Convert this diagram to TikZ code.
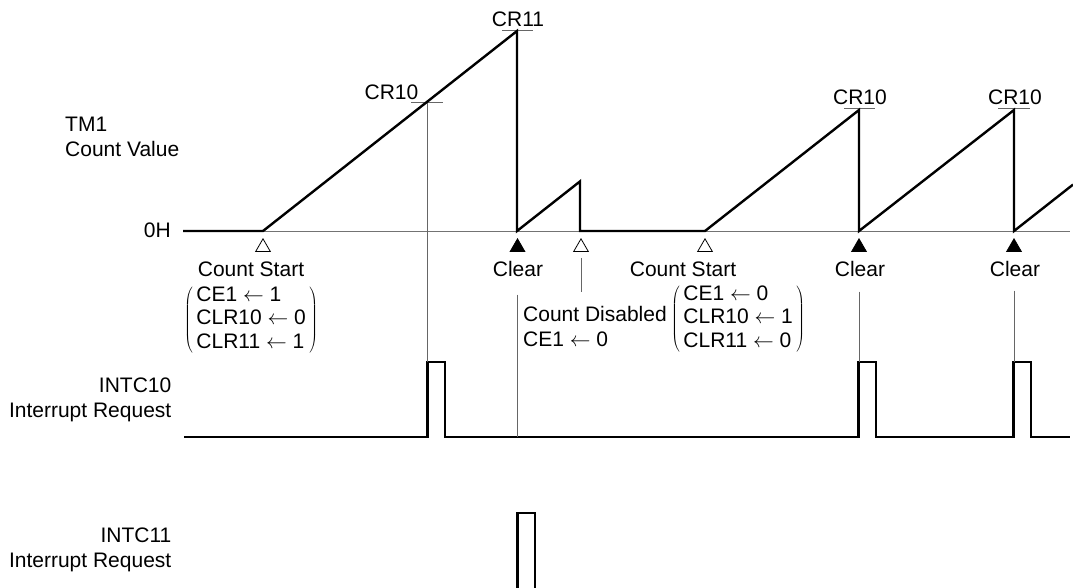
\documentclass[tikz,border=0pt]{standalone}
\usepackage{fontspec}
\setmainfont{Liberation Sans}
\usetikzlibrary{shapes.geometric, positioning}

\renewcommand{\arraystretch}{0.94}
\newcommand{\setblock}[3]{$\left(\begin{tabular}{@{\,}l@{\,}}CE1 $\leftarrow$ #1\\CLR10 $\leftarrow$ #2\\CLR11 $\leftarrow$ #3\end{tabular}\right)$}

\begin{document}
\begin{tikzpicture}[
    x=1pt, y=-1pt,
    font=\fontsize{21}{25}\selectfont,
    wave/.style={line width=2.4pt},
    axis/.style={line width=1pt, color=black!55},
    guide/.style={line width=1pt, color=black!60},
    tmark/.style={regular polygon, regular polygon sides=3, draw, line width=0.8pt, minimum size=17pt, inner sep=0pt, anchor=corner 1},
    startmark/.style={tmark, fill=white},
    clearmark/.style={tmark, fill=black},
    lbl/.style={inner sep=0pt},
    cr/.style={lbl, anchor=base},
    event/.style={lbl, anchor=base},
    sig/.style={lbl, align=right, anchor=east},
]
\useasboundingbox (0,0) rectangle (1073,587);

% Signal names
\node[lbl, align=left, anchor=west] (tmlbl) at (65,137) {TM1\\Count Value};
\node[lbl, anchor=east] (zero) at (171,230) {0H};
\node[sig] (int10) at (171.5,400) {INTC10\\Interrupt Request};
\node[sig] (int11) at (171.5,550) {INTC11\\Interrupt Request};

% Compare registers
\node[cr] (cr11) at (518,26.5) {CR11};
\node[cr] (cr10a) at (391.5,99.5) {CR10};
\node[cr] (cr10b) at (860,104.5) {CR10};
\node[cr] (cr10c) at (1015,104.5) {CR10};
\draw[guide] (411,102) -- (443,102);
\draw[guide] (502,30) -- (533,30);
\draw[guide] (844,108) -- (875,108);
\draw[guide] (998,108) -- (1030,108);

% Count value
\draw[axis] (183,231) -- (1070,231);
\draw[wave] (183,231) -- (263,231) -- (517,31) -- (517,231) -- (580,181.4) -- (580,231)
    -- (705,231) -- (859,110) -- (859,231) -- (1014,110) -- (1014,231) -- (1073,184.6);

% Interrupt requests
\draw[wave] (184,437) foreach \px in {427.5,858.5,1013.5} {
    -- (\px,437) -- (\px,362) -- ++(17.5,0) -- ++(0,75) } -- (1070,437);
\draw[wave] (517.5,590) -- (517.5,513) -- (535,513) -- (535,590);

% Event markers
\node[startmark] (start1) at (263,238) {};
\node[clearmark] (clr1) at (517.5,238) {};
\node[startmark] (dis) at (581,238) {};
\node[startmark] (start2) at (705,238) {};
\node[clearmark] (clr2) at (859,238) {};
\node[clearmark] (clr3) at (1014,238) {};

\node[event] (starttxt1) at (251,276.5) {Count Start};
\node[event] (clrtxt1) at (518,276.5) {Clear};
\node[event] (starttxt2) at (683,276.5) {Count Start};
\node[event] (clrtxt2) at (860,276.5) {Clear};
\node[event] (clrtxt3) at (1015,276.5) {Clear};

\node[lbl, anchor=west] (set1) at (184,320) {\setblock{1}{0}{1}};
\node[lbl, anchor=west] (set2) at (671,319) {\setblock{0}{1}{0}};
\node[lbl, align=left, anchor=west] (distxt) at (523,326) {Count Disabled\\CE1 $\leftarrow$ 0};

% Guide lines
\coordinate (p1) at (427.5,362);
\coordinate (low1) at (517.5,437);
\coordinate (p2) at (859,362);
\coordinate (p3) at (1014,362);
\coordinate (disend) at (581,292);
\draw[guide] (cr10a.base -| p1) ++(0,3) -- (p1);
\draw[guide] ([yshift=-18pt]clrtxt1.base -| low1) -- (low1);
\draw[guide] ([yshift=-6pt]dis.south) -- (disend);
\draw[guide] ([yshift=-15pt]clrtxt2.base -| p2) -- (p2);
\draw[guide] ([yshift=-14pt]clrtxt3.base -| p3) -- (p3);

\end{tikzpicture}
\end{document}
